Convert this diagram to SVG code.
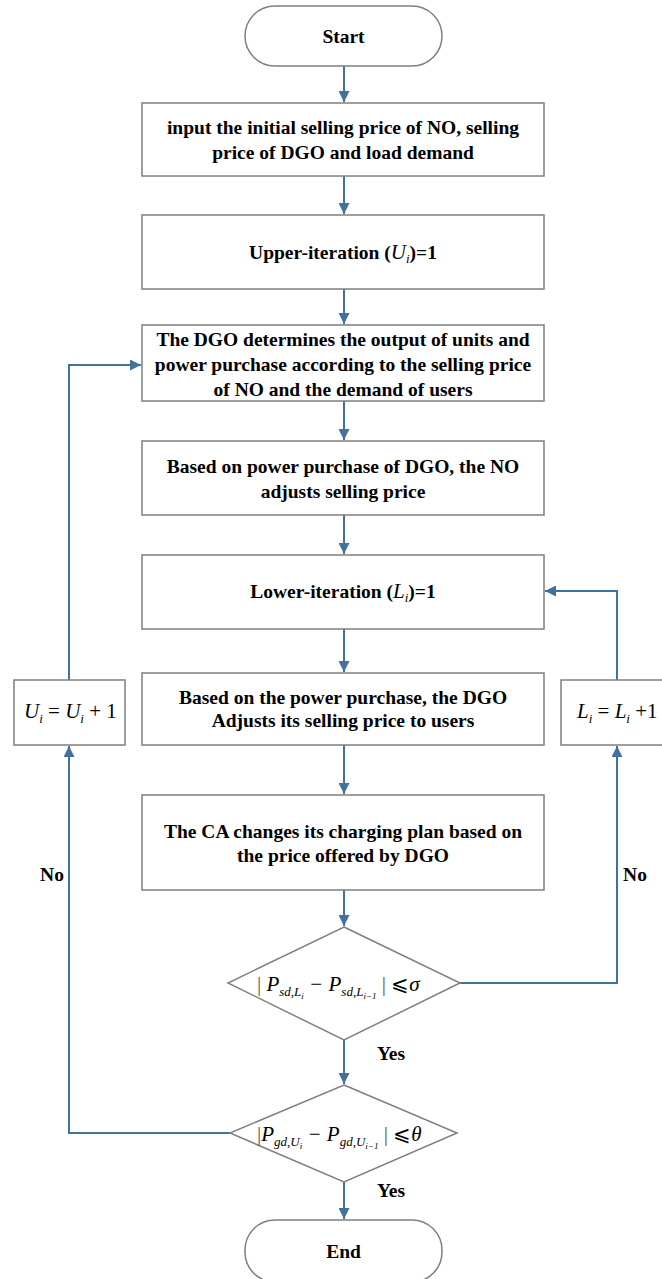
<svg xmlns="http://www.w3.org/2000/svg" width="662" height="1279" viewBox="0 0 662 1279">
  <style>
    .node { fill: #ffffff; stroke: #7f7f7f; stroke-width: 1.5; }
    .lbl { font-family: "Liberation Serif", "Times New Roman", serif; font-weight: bold; font-size: 19.5px; fill: #000; text-anchor: middle; }
    .math { font-family: "Liberation Serif", "Times New Roman", serif; font-style: italic; font-size: 21px; fill: #000; }
    .sub { font-size: 13px; }
    .bar { font-style: normal; fill: #555; }
    .conn { fill: none; stroke: #41719c; stroke-width: 2; }
  </style>
  <defs>
    <marker id="arr" viewBox="0 0 10 10" refX="10" refY="5" markerWidth="11" markerHeight="11" markerUnits="userSpaceOnUse" orient="auto">
      <path d="M0,0 L10,5 L0,10 z" fill="#41719c"/>
    </marker>
  </defs>
  <rect width="662" height="1279" fill="#ffffff"/>

  <g id="connectors">
    <path class="conn" d="M344,66 V102" marker-end="url(#arr)"/>
    <path class="conn" d="M344,176 V214" marker-end="url(#arr)"/>
    <path class="conn" d="M344,289 V324" marker-end="url(#arr)"/>
    <path class="conn" d="M344,401 V440" marker-end="url(#arr)"/>
    <path class="conn" d="M344,515 V554" marker-end="url(#arr)"/>
    <path class="conn" d="M344,629 V672" marker-end="url(#arr)"/>
    <path class="conn" d="M344,745 V794" marker-end="url(#arr)"/>
    <path class="conn" d="M344,890 V926" marker-end="url(#arr)"/>
    <path class="conn" d="M344,1040 V1084" marker-end="url(#arr)"/>
    <path class="conn" d="M344,1182 V1219" marker-end="url(#arr)"/>
    <!-- upper loop -->
    <path class="conn" d="M230,1133 H69 V746" marker-end="url(#arr)"/>
    <path class="conn" d="M69,680 V365 H141" marker-end="url(#arr)"/>
    <!-- lower loop -->
    <path class="conn" d="M460,983 H617 V746" marker-end="url(#arr)"/>
    <path class="conn" d="M617,680 V591 H545" marker-end="url(#arr)"/>
    <text class="lbl" x="52" y="881">No</text>
    <text class="lbl" x="635" y="881">No</text>
    <text class="lbl" x="391" y="1060">Yes</text>
    <text class="lbl" x="391" y="1197">Yes</text>
  </g>

  <g id="start">
    <rect class="node" x="245" y="6" width="197" height="60" rx="30"/>
    <text class="lbl" x="343.500" y="43">Start</text>
  </g>
  <g id="input">
    <rect class="node" x="142" y="103" width="402" height="73"/>
    <text class="lbl" x="343" y="134">input the initial selling price of NO, selling</text>
    <text class="lbl" x="343" y="159">price of DGO and load demand</text>
  </g>
  <g id="upper-init">
    <rect class="node" x="142" y="215" width="402" height="74"/>
    <text class="lbl" x="343" y="259">Upper-iteration (<tspan font-family="Liberation Serif, serif" font-style="italic" font-weight="normal" font-size="21">U<tspan class="sub" dy="4">i</tspan></tspan><tspan dy="-4">)=1</tspan></text>
  </g>
  <g id="dgo-output">
    <rect class="node" x="142" y="325" width="402" height="76"/>
    <text class="lbl" x="343" y="346">The DGO determines the output of units and</text>
    <text class="lbl" x="343" y="371">power purchase according to the selling price</text>
    <text class="lbl" x="343" y="396">of NO and the demand of users</text>
  </g>
  <g id="no-adjust">
    <rect class="node" x="142" y="441" width="402" height="74"/>
    <text class="lbl" x="343" y="473">Based on power purchase of DGO, the NO</text>
    <text class="lbl" x="343" y="498">adjusts selling price</text>
  </g>
  <g id="lower-init">
    <rect class="node" x="142" y="555" width="402" height="74"/>
    <text class="lbl" x="343" y="598">Lower-iteration (<tspan font-family="Liberation Serif, serif" font-style="italic" font-weight="normal" font-size="21">L<tspan class="sub" dy="4">i</tspan></tspan><tspan dy="-4">)=1</tspan></text>
  </g>
  <g id="dgo-adjust">
    <rect class="node" x="142" y="673" width="402" height="72"/>
    <text class="lbl" x="343" y="704">Based on the power purchase, the DGO</text>
    <text class="lbl" x="343" y="727">Adjusts its selling price to users</text>
  </g>
  <g id="ca-plan">
    <rect class="node" x="142" y="795" width="402" height="95"/>
    <text class="lbl" x="343" y="838">The CA changes its charging plan based on</text>
    <text class="lbl" x="343" y="862">the price offered by DGO</text>
  </g>
  <g id="check-lower">
    <polygon class="node" points="344,927 460,983 344,1040 228,983"/>
    <text class="math" x="257" y="991"><tspan class="bar">|</tspan> P<tspan class="sub" dy="5">sd</tspan><tspan class="sub" font-style="normal">,</tspan><tspan class="sub">L</tspan><tspan font-size="9" dy="3">i</tspan><tspan dy="-8"> − P</tspan><tspan class="sub" dy="5">sd</tspan><tspan class="sub" font-style="normal">,</tspan><tspan class="sub">L</tspan><tspan font-size="9" dy="3">i−1</tspan><tspan dy="-8" class="bar"> | </tspan><tspan font-style="normal">⩽</tspan><tspan>σ</tspan></text>
  </g>
  <g id="check-upper">
    <polygon class="node" points="344,1085 457,1133 344,1182 230,1133"/>
    <text class="math" x="257" y="1141"><tspan class="bar">|</tspan>P<tspan class="sub" dy="5">gd</tspan><tspan class="sub" font-style="normal">,</tspan><tspan class="sub">U</tspan><tspan font-size="9" dy="3">i</tspan><tspan dy="-8"> − P</tspan><tspan class="sub" dy="5">gd</tspan><tspan class="sub" font-style="normal">,</tspan><tspan class="sub">U</tspan><tspan font-size="9" dy="3">i−1</tspan><tspan dy="-8" class="bar"> | </tspan><tspan font-style="normal">⩽</tspan><tspan>θ</tspan></text>
  </g>
  <g id="upper-step">
    <rect class="node" x="14" y="680" width="111" height="65"/>
    <text class="math" x="24" y="718">U<tspan class="sub" dy="5">i</tspan><tspan dy="-5" font-style="normal"> = </tspan>U<tspan class="sub" dy="5">i</tspan><tspan dy="-5" font-style="normal"> + 1</tspan></text>
  </g>
  <g id="lower-step">
    <rect class="node" x="561" y="680" width="110" height="65"/>
    <text class="math" x="577" y="718">L<tspan class="sub" dy="5">i</tspan><tspan dy="-5" font-style="normal"> = </tspan>L<tspan class="sub" dy="5">i</tspan><tspan dy="-5" font-style="normal"> +1</tspan></text>
  </g>
  <g id="end">
    <rect class="node" x="245" y="1220" width="197" height="62" rx="30"/>
    <text class="lbl" x="343.500" y="1258">End</text>
  </g>
</svg>
